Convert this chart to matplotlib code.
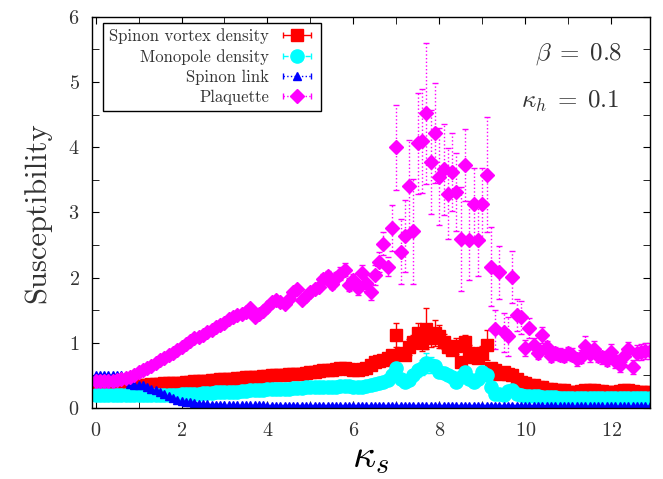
import numpy as np
import matplotlib
matplotlib.use("Agg")
import matplotlib.pyplot as plt
from matplotlib.legend_handler import HandlerErrorbar
from matplotlib.ticker import MultipleLocator

plt.rcParams['font.family'] = ['cmr10', 'DejaVu Serif']
plt.rcParams['mathtext.fontset'] = 'cm'
plt.rcParams['axes.formatter.use_mathtext'] = True

# kappa_s grid
kappa = np.round(np.arange(0, 13.0, 0.1), 1)

# Spinon vortex density
vortex = [0.33, 0.33, 0.33, 0.34, 0.34, 0.34, 0.35, 0.35, 0.35, 0.35,
          0.36, 0.36, 0.36, 0.37, 0.37, 0.37, 0.38, 0.38, 0.38, 0.39,
          0.39, 0.40, 0.40, 0.41, 0.41, 0.42, 0.42, 0.43, 0.43, 0.44,
          0.44, 0.45, 0.45, 0.46, 0.46, 0.47, 0.47, 0.48, 0.48, 0.49,
          0.49, 0.50, 0.50, 0.51, 0.51, 0.52, 0.52, 0.53, 0.53, 0.54,
          0.55, 0.56, 0.57, 0.58, 0.58, 0.59, 0.60, 0.61, 0.62, 0.60,
          0.58, 0.58, 0.60, 0.62, 0.66, 0.70, 0.72, 0.74, 0.77, 0.81,
          1.12, 0.85, 0.81, 0.94, 1.02, 1.15, 1.00, 1.22, 1.08, 1.15,
          1.10, 1.02, 0.94, 0.89, 0.95, 0.71, 1.02, 0.84, 0.79, 0.77,
          0.85, 0.97, 0.62, 0.58, 0.53, 0.56, 0.52, 0.51, 0.45, 0.40,
          0.38, 0.36, 0.35, 0.33, 0.32, 0.30, 0.30, 0.28, 0.28, 0.27,
          0.25, 0.25, 0.25, 0.26, 0.27, 0.27, 0.27, 0.26, 0.26, 0.25,
          0.25, 0.25, 0.26, 0.27, 0.27, 0.26, 0.25, 0.25, 0.25, 0.25]
vortex_err = [0.01] * 50 + \
             [0.02, 0.02, 0.02, 0.02, 0.02, 0.02, 0.02, 0.02, 0.02, 0.02,
              0.02, 0.02, 0.02, 0.03, 0.03, 0.03, 0.04, 0.04, 0.05, 0.05,
              0.19, 0.05, 0.08, 0.12, 0.10, 0.15, 0.12, 0.32, 0.15, 0.20,
              0.18, 0.12, 0.10, 0.08, 0.12, 0.08, 0.10, 0.12, 0.10, 0.08,
              0.10, 0.23, 0.06, 0.05, 0.04, 0.05, 0.06, 0.06, 0.05, 0.04] + [0.02] * 30

# Monopole density
monopole = [0.20, 0.20, 0.20, 0.20, 0.20, 0.20, 0.20, 0.20, 0.20, 0.20,
            0.20, 0.20, 0.20, 0.20, 0.20, 0.20, 0.20, 0.20, 0.20, 0.20,
            0.21, 0.21, 0.22, 0.22, 0.22, 0.23, 0.23, 0.23, 0.24, 0.24,
            0.24, 0.25, 0.25, 0.25, 0.26, 0.26, 0.27, 0.27, 0.28, 0.28,
            0.29, 0.29, 0.29, 0.30, 0.30, 0.30, 0.31, 0.31, 0.31, 0.32,
            0.32, 0.32, 0.32, 0.33, 0.33, 0.33, 0.33, 0.34, 0.34, 0.34,
            0.33, 0.33, 0.33, 0.34, 0.35, 0.37, 0.38, 0.40, 0.43, 0.50,
            0.61, 0.45, 0.40, 0.43, 0.50, 0.58, 0.62, 0.69, 0.66, 0.64,
            0.56, 0.54, 0.51, 0.47, 0.40, 0.48, 0.56, 0.45, 0.40, 0.45,
            0.56, 0.50, 0.33, 0.22, 0.21, 0.20, 0.26, 0.28, 0.22, 0.20,
            0.19, 0.18, 0.18, 0.18, 0.17, 0.17, 0.17, 0.17, 0.16, 0.16,
            0.16, 0.16, 0.16, 0.16, 0.16, 0.16, 0.16, 0.16, 0.16, 0.16,
            0.16, 0.16, 0.16, 0.16, 0.16, 0.16, 0.16, 0.16, 0.16, 0.16]
monopole_err = [0.01] * 60 + \
               [0.01, 0.01, 0.02, 0.02, 0.02, 0.03, 0.03, 0.04, 0.05, 0.06,
                0.10, 0.06, 0.05, 0.06, 0.08, 0.10, 0.12, 0.15, 0.12, 0.10,
                0.08, 0.08, 0.08, 0.06, 0.06, 0.06, 0.08, 0.06, 0.06, 0.06,
                0.08, 0.06, 0.04, 0.03, 0.03, 0.03, 0.03, 0.03, 0.02, 0.02] + [0.01] * 30

# Spinon link
link = [0.50, 0.50, 0.50, 0.50, 0.50, 0.50, 0.50, 0.49, 0.37, 0.36,
        0.36, 0.35, 0.33, 0.30, 0.27, 0.24, 0.21, 0.18, 0.15, 0.13,
        0.11, 0.10, 0.09, 0.08, 0.07, 0.06, 0.06, 0.05, 0.05, 0.05,
        0.04, 0.04, 0.04, 0.04, 0.04, 0.04, 0.04, 0.04, 0.04, 0.04] + [0.03] * 90
link_err = [0.01] * 130

# Plaquette
plaq = [0.41, 0.41, 0.41, 0.42, 0.42, 0.43, 0.44, 0.46, 0.48, 0.51,
        0.55, 0.58, 0.61, 0.65, 0.69, 0.73, 0.77, 0.81, 0.85, 0.89,
        0.93, 0.98, 1.03, 1.07, 1.09, 1.12, 1.16, 1.20, 1.24, 1.28,
        1.31, 1.36, 1.40, 1.42, 1.44, 1.48, 1.53, 1.40, 1.44, 1.49,
        1.55, 1.63, 1.65, 1.63, 1.60, 1.68, 1.78, 1.82, 1.66, 1.72,
        1.78, 1.82, 1.86, 1.98, 2.02, 1.90, 2.00, 2.06, 2.12, 1.89,
        1.96, 1.84, 2.07, 1.92, 1.78, 2.04, 2.24, 2.52, 2.17, 2.76,
        4.00, 2.40, 2.64, 3.41, 2.71, 4.06, 4.10, 4.52, 3.77, 4.22,
        3.55, 3.66, 3.29, 3.62, 3.31, 2.59, 3.73, 2.57, 3.13, 2.57,
        3.13, 3.58, 2.17, 1.21, 2.08, 1.16, 1.10, 2.01, 1.43, 1.39,
        0.92, 1.23, 0.96, 0.85, 1.12, 0.93, 0.80, 0.84, 0.82, 0.80,
        0.84, 0.82, 0.75, 0.79, 0.95, 0.83, 0.91, 0.80, 0.78, 0.74,
        0.86, 0.72, 0.66, 0.80, 0.90, 0.63, 0.85, 0.86, 0.88, 0.88]
plaq_err = [0.03] * 50 + \
           [0.06, 0.06, 0.07, 0.08, 0.08, 0.08, 0.08, 0.10, 0.10, 0.10,
            0.10, 0.10, 0.12, 0.12, 0.12, 0.15, 0.15, 0.18, 0.15, 0.35,
            0.65, 0.50, 0.55, 0.70, 0.80, 0.77, 0.80, 1.08, 0.80, 0.77,
            0.75, 0.70, 0.70, 0.60, 0.60, 0.80, 0.55, 0.60, 0.55, 0.55,
            0.55, 0.88, 0.60, 0.30, 0.40, 0.30, 0.30, 0.40, 0.25, 0.25,
            0.12, 0.15, 0.12, 0.10, 0.12, 0.10, 0.10, 0.10, 0.10, 0.10,
            0.10, 0.10, 0.10, 0.10, 0.15, 0.12, 0.12, 0.10, 0.10, 0.10,
            0.12, 0.10, 0.10, 0.10, 0.12, 0.10, 0.12, 0.12, 0.12, 0.12]

series = [
    ("Spinon vortex density", vortex, vortex_err, '#ff0000', 's', 9.0, '-'),
    ("Monopole density", monopole, monopole_err, '#00ffff', 'o', 9.5, '--'),
    ("Spinon link", link, link_err, '#0000ff', '^', 6.0, ':'),
    ("Plaquette", plaq, plaq_err, '#ff00ff', 'D', 7.5, ':'),
]

fig = plt.figure(figsize=(6.63, 4.79), dpi=100)
ax = fig.add_axes([0.139, 0.148, 0.841, 0.817])

handles = []
for name, y, e, c, m, ms, ls in series:
    eb = ax.errorbar(kappa, y, yerr=e, fmt=m, color=c, ms=ms, mec=c,
                     elinewidth=1, capsize=2.5, capthick=1)
    for b in eb[2]:
        b.set_linestyle(ls)
    # proxy for the gnuplot style key
    h = ax.errorbar([np.nan], [np.nan], xerr=[1], fmt=m, color=c, ms=ms,
                    mec=c, elinewidth=1, capsize=2.5, capthick=1, label=name)
    for b in h[2]:
        b.set_linestyle(ls)
    handles.append(h)

ax.set_xlim(-0.08, 12.9)
ax.set_ylim(0, 6)
ax.xaxis.set_major_locator(MultipleLocator(2))
ax.xaxis.set_minor_locator(MultipleLocator(1))
ax.yaxis.set_major_locator(MultipleLocator(1))
ax.yaxis.set_minor_locator(MultipleLocator(0.5))
ax.tick_params(which='both', direction='in', top=True, right=True,
               labelsize=14.5, labelcolor='#333333', length=5)
ax.tick_params(axis='x', pad=10)
ax.tick_params(axis='y', pad=9)
for s in ax.spines.values():
    s.set_linewidth(1)

ax.set_xlabel(r'$\kappa_s$', fontsize=29, labelpad=0)
ax.set_ylabel('Susceptibility', fontsize=22, color='#333333', labelpad=12)

ax.text(0.95, 0.905, r'$\beta\;=\;0.8$', transform=ax.transAxes,
        ha='right', va='center', fontsize=18, color='#333333')
ax.text(0.945, 0.785, r'$\kappa_h\;=\;0.1$', transform=ax.transAxes,
        ha='right', va='center', fontsize=18, color='#333333')

leg = ax.legend(handles=handles, loc='upper left', bbox_to_anchor=(0.02, 0.985),
                borderaxespad=0, markerfirst=False, fancybox=False,
                edgecolor='black', framealpha=1, fontsize=12,
                handlelength=2.2, handletextpad=0.6, labelspacing=0.28,
                borderpad=0.35,
                handler_map={type(handles[0]): HandlerErrorbar(xerr_size=0.85)})
leg.get_frame().set_linewidth(1)
for t in leg.get_texts():
    t.set_color('#333333')

fig.savefig('out.png', dpi=100)
